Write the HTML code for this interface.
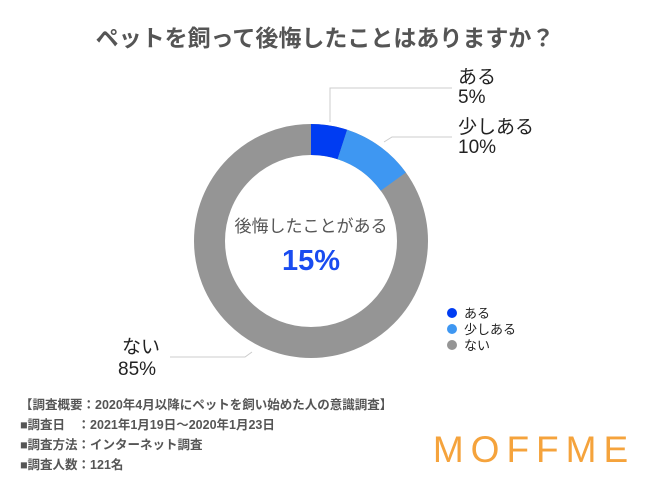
<!DOCTYPE html>
<html><head><meta charset="utf-8"><style>
body{margin:0;background:#fff;}
svg text{font-family:"Liberation Sans","Noto Sans CJK JP",sans-serif;}
</style></head><body>
<svg width="650" height="488" viewBox="0 0 650 488">
<rect width="650" height="488" fill="#fff"/>
<text x="325" y="46" text-anchor="middle" font-size="23" font-weight="bold" fill="#555">ペットを飼って後悔したことはありますか？</text>
<g transform="translate(311,241) rotate(-90)">
<circle r="101.5" fill="none" stroke="#959595" stroke-width="31"/>
<circle r="101.5" fill="none" stroke="#003cf2" stroke-width="31" stroke-dasharray="31.9 700"/>
<circle r="101.5" fill="none" stroke="#3e97f2" stroke-width="31" stroke-dasharray="0 31.9 64 700"/>
</g>
<g fill="none" stroke="#ccc" stroke-width="1">
<polyline points="330,122 330,88 452,88"/>
<polyline points="384,142 392,137 452,137"/>
<polyline points="170,357 245,357 252,352"/>
</g>
<g font-size="19" fill="#222">
<text x="458" y="83">ある</text><text x="458" y="103">5%</text>
<text x="458" y="133">少しある</text><text x="458" y="153">10%</text>
<text x="122" y="353">ない</text><text x="118" y="375">85%</text>
</g>
<text x="311" y="232" text-anchor="middle" font-size="17" fill="#555">後悔したことがある</text>
<text x="311" y="270" text-anchor="middle" font-size="29" font-weight="bold" fill="#1a4cf0">15%</text>
<g font-size="13" fill="#222">
<circle cx="452" cy="313" r="5" fill="#003cf2"/><text x="464" y="318">ある</text>
<circle cx="452" cy="329" r="5" fill="#3e97f2"/><text x="464" y="334">少しある</text>
<circle cx="452" cy="345" r="5" fill="#959595"/><text x="464" y="350">ない</text>
</g>
<g font-size="12.5" fill="#555" font-weight="bold">
<text x="20" y="409">【調査概要：2020年4月以降にペットを飼い始めた人の意識調査】</text>
<text x="20" y="429">■調査日　：2021年1月19日～2020年1月23日</text>
<text x="20" y="449">■調査方法：インターネット調査</text>
<text x="20" y="469">■調査人数：121名</text>
</g>
<text x="534" y="462" text-anchor="middle" font-size="37" fill="#f5a33c" letter-spacing="7">MOFFME</text>
</svg>
</body></html>
